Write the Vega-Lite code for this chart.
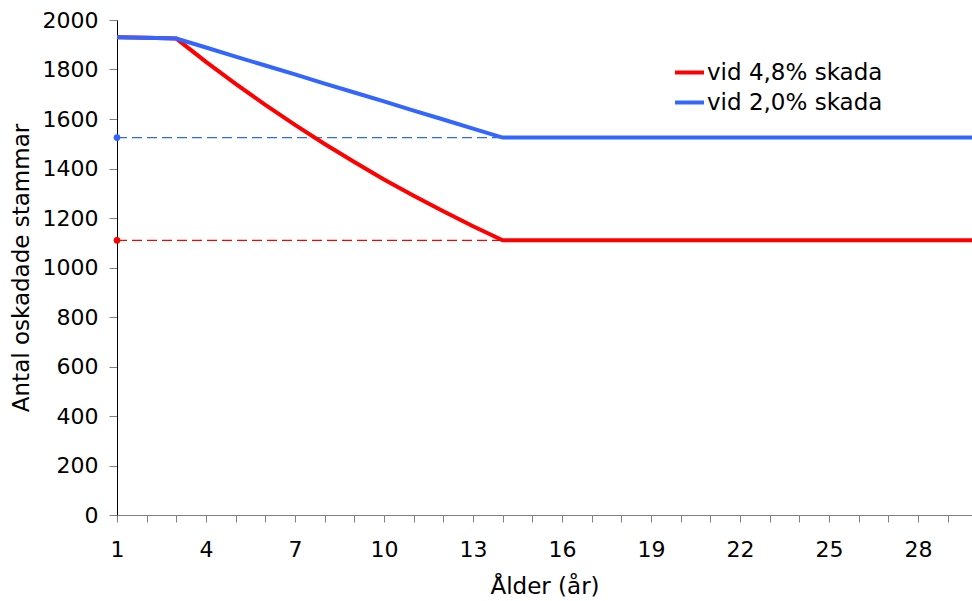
{
  "$schema": "https://vega.github.io/schema/vega-lite/v6.json",
  "width": 855,
  "height": 495,
  "autosize": {"type": "none"},
  "padding": {"left": 117, "top": 20, "right": 0, "bottom": 86},
  "config": {
    "font": "DejaVu Sans",
    "view": {"stroke": null},
    "axis": {
      "grid": false,
      "labelFont": "DejaVu Sans",
      "labelFontSize": 22,
      "labelColor": "#000000",
      "titleFont": "DejaVu Sans",
      "titleFontSize": 23,
      "titleFontWeight": "normal",
      "titleColor": "#000000"
    }
  },
  "datasets": {
    "main": [
      {"ar": 1, "serie": "\u00a0vid 4,8% skada", "antal": 1930},
      {"ar": 2, "serie": "\u00a0vid 4,8% skada", "antal": 1928},
      {"ar": 3, "serie": "\u00a0vid 4,8% skada", "antal": 1925},
      {"ar": 4, "serie": "\u00a0vid 4,8% skada", "antal": 1831},
      {"ar": 5, "serie": "\u00a0vid 4,8% skada", "antal": 1742},
      {"ar": 6, "serie": "\u00a0vid 4,8% skada", "antal": 1657},
      {"ar": 7, "serie": "\u00a0vid 4,8% skada", "antal": 1576},
      {"ar": 8, "serie": "\u00a0vid 4,8% skada", "antal": 1499},
      {"ar": 9, "serie": "\u00a0vid 4,8% skada", "antal": 1426},
      {"ar": 10, "serie": "\u00a0vid 4,8% skada", "antal": 1356},
      {"ar": 11, "serie": "\u00a0vid 4,8% skada", "antal": 1290},
      {"ar": 12, "serie": "\u00a0vid 4,8% skada", "antal": 1227},
      {"ar": 13, "serie": "\u00a0vid 4,8% skada", "antal": 1167},
      {"ar": 14, "serie": "\u00a0vid 4,8% skada", "antal": 1110},
      {"ar": 30, "serie": "\u00a0vid 4,8% skada", "antal": 1110},
      {"ar": 1, "serie": "vid 2,0% skada", "antal": 1930},
      {"ar": 2, "serie": "vid 2,0% skada", "antal": 1928},
      {"ar": 3, "serie": "vid 2,0% skada", "antal": 1925},
      {"ar": 4, "serie": "vid 2,0% skada", "antal": 1889},
      {"ar": 5, "serie": "vid 2,0% skada", "antal": 1852},
      {"ar": 6, "serie": "vid 2,0% skada", "antal": 1816},
      {"ar": 7, "serie": "vid 2,0% skada", "antal": 1780},
      {"ar": 8, "serie": "vid 2,0% skada", "antal": 1743},
      {"ar": 9, "serie": "vid 2,0% skada", "antal": 1707},
      {"ar": 10, "serie": "vid 2,0% skada", "antal": 1671},
      {"ar": 11, "serie": "vid 2,0% skada", "antal": 1634},
      {"ar": 12, "serie": "vid 2,0% skada", "antal": 1598},
      {"ar": 13, "serie": "vid 2,0% skada", "antal": 1561},
      {"ar": 14, "serie": "vid 2,0% skada", "antal": 1525},
      {"ar": 30, "serie": "vid 2,0% skada", "antal": 1525}
    ],
    "ref": [
      {"ar": 1, "serie": "\u00a0vid 4,8% skada", "antal": 1110},
      {"ar": 14, "serie": "\u00a0vid 4,8% skada", "antal": 1110},
      {"ar": 1, "serie": "vid 2,0% skada", "antal": 1525},
      {"ar": 14, "serie": "vid 2,0% skada", "antal": 1525}
    ],
    "dots": [
      {"ar": 1, "serie": "\u00a0vid 4,8% skada", "antal": 1110},
      {"ar": 1, "serie": "vid 2,0% skada", "antal": 1525}
    ]
  },
  "encoding": {
    "x": {
      "field": "ar",
      "type": "quantitative",
      "scale": {"domain": [1, 29.82], "nice": false, "zero": false},
      "axis": {
        "title": "Ålder (år)",
        "values": [1,2,3,4,5,6,7,8,9,10,11,12,13,14,15,16,17,18,19,20,21,22,23,24,25,26,27,28,29],
        "labelExpr": "(datum.value - 1) % 3 == 0 ? datum.label : ''",
        "domainColor": "#808080",
        "tickColor": "#808080",
        "tickSize": 7,
        "labelPadding": 17,
        "titlePadding": 15,
        "labelFlush": false,
        "labelOverlap": false
      }
    },
    "y": {
      "field": "antal",
      "type": "quantitative",
      "scale": {"domain": [0, 2000], "nice": false},
      "axis": {
        "title": "Antal oskadade stammar",
        "format": "d",
        "values": [0,200,400,600,800,1000,1200,1400,1600,1800,2000],
        "domainColor": "#000000",
        "tickColor": "#808080",
        "tickSize": 8,
        "labelPadding": 11,
        "titlePadding": 9
      }
    },
    "color": {
      "field": "serie",
      "type": "nominal",
      "scale": {"domain": ["\u00a0vid 4,8% skada", "vid 2,0% skada"], "range": ["#FF0000", "#3366FF"]},
      "legend": {
        "title": null,
        "orient": "none",
        "legendX": 556,
        "legendY": 36,
        "padding": 0,
        "symbolType": "stroke",
        "symbolStrokeWidth": 4,
        "symbolSize": 841,
        "labelFont": "DejaVu Sans",
        "labelFontSize": 23,
        "labelColor": "#000000",
        "labelOffset": 1,
        "labelLimit": 400,
        "rowPadding": 1
      }
    }
  },
  "layer": [
    {
      "data": {"name": "ref"},
      "mark": {"type": "line", "strokeWidth": 1.2, "strokeDash": [10, 5]}
    },
    {
      "data": {"name": "dots"},
      "mark": {"type": "point", "filled": true, "size": 45, "opacity": 1}
    },
    {
      "data": {"name": "main"},
      "mark": {"type": "line", "strokeWidth": 4, "clip": true}
    }
  ]
}
